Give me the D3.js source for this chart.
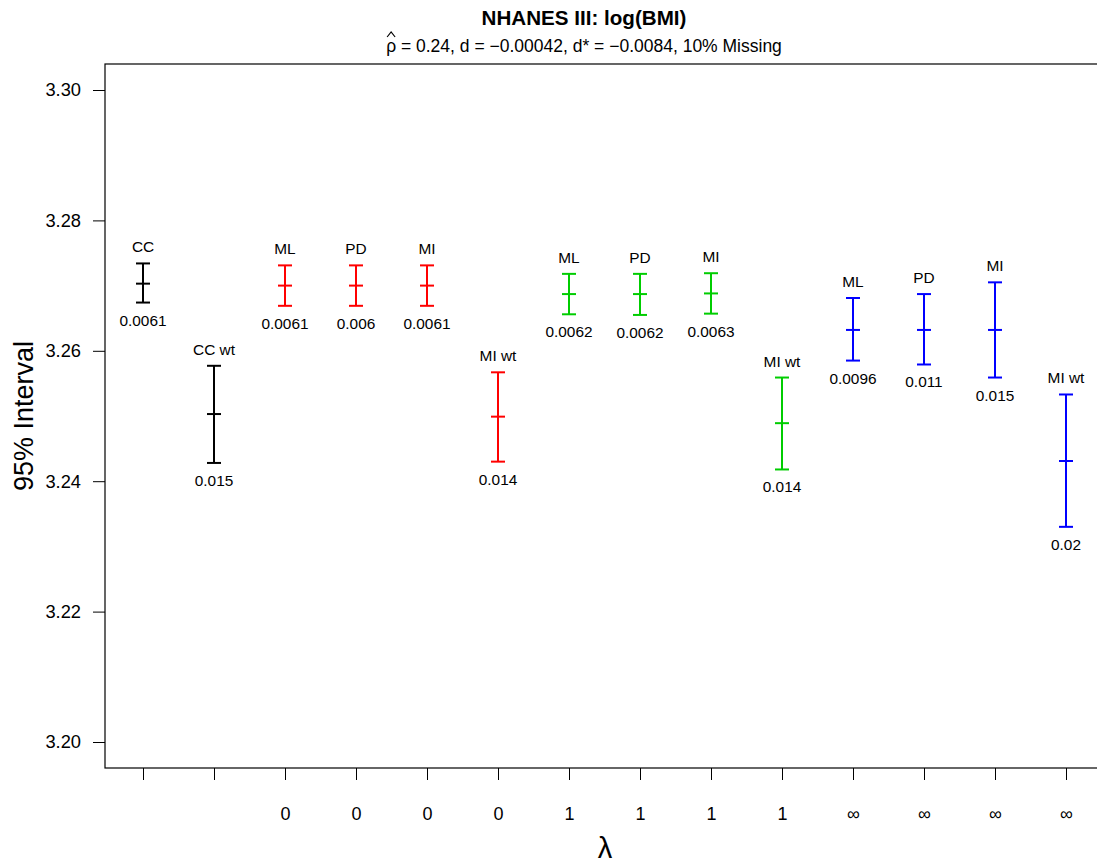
<!DOCTYPE html>
<html>
<head>
<meta charset="utf-8">
<script src="https://cdn.jsdelivr.net/npm/d3@7"></script>
<style>
  body { margin: 0; background: #fff; }
  svg { display: block; }
  text { font-family: "Liberation Sans", Arial, sans-serif; fill: #000; }
</style>
</head>
<body>
<svg id="chart" width="1097" height="866"></svg>
<script>
// ---- data ----
const topLabels    = ["CC", "CC wt", "ML", "PD", "MI", "MI wt", "ML", "PD", "MI", "MI wt", "ML", "PD", "MI", "MI wt"];
const lambdaLabels = ["", "", "0", "0", "0", "0", "1", "1", "1", "1", "\u221E", "\u221E", "\u221E", "\u221E"];
const groups       = [0, 0, 1, 1, 1, 1, 2, 2, 2, 2, 3, 3, 3, 3];
const estimates    = [3.2703, 3.2503, 3.2700, 3.2700, 3.2700, 3.2499, 3.2687, 3.2687, 3.2688, 3.2489, 3.2632, 3.2632, 3.2632, 3.2431];
const lowers       = [3.2674, 3.2428, 3.2669, 3.2669, 3.2669, 3.2430, 3.2656, 3.2655, 3.2657, 3.2418, 3.2585, 3.2579, 3.2559, 3.2330];
const uppers       = [3.2734, 3.2577, 3.2731, 3.2731, 3.2731, 3.2567, 3.2718, 3.2718, 3.2719, 3.2559, 3.2681, 3.2687, 3.2705, 3.2533];
const widthLabels  = ["0.0061", "0.015", "0.0061", "0.006", "0.0061", "0.014", "0.0062", "0.0062", "0.0063", "0.014", "0.0096", "0.011", "0.015", "0.02"];
const groupColors  = ["#000000", "#ff0000", "#00cd00", "#0000ff"];
const yTicks       = [3.20, 3.22, 3.24, 3.26, 3.28, 3.30];

// ---- layout ----
const svg = d3.select("#chart");
const plotLeft = 105, plotRight = 1100, plotTop = 64, plotBottom = 768;
const titleCenter = 584;

const y = d3.scaleLinear().domain([3.20, 3.30]).range([742, 90]);
const x = d3.scalePoint().domain(d3.range(topLabels.length)).range([143, 1066]);

// box (top + left + bottom; right edge off-canvas)
svg.append("rect")
  .attr("x", plotLeft).attr("y", plotTop)
  .attr("width", plotRight - plotLeft).attr("height", plotBottom - plotTop)
  .attr("fill", "none").attr("stroke", "#000").attr("stroke-width", 1.2);

// y axis
const yAxis = d3.axisLeft(y).tickValues(yTicks).tickFormat(d3.format(".2f")).tickSizeOuter(0).tickSize(12).tickPadding(12);
const gy = svg.append("g").attr("transform", `translate(${plotLeft},0)`).call(yAxis);
gy.attr("font-size", null).attr("font-family", null);
gy.select(".domain").remove();
gy.selectAll("line").attr("stroke", "#000");
gy.selectAll("text").style("font-size", "18.3px").style("font-family", "Liberation Sans, Arial, sans-serif");

// x axis
const xAxis = d3.axisBottom(x).tickFormat(i => lambdaLabels[i]).tickSizeOuter(0).tickSize(12).tickPadding(27);
const gx = svg.append("g").attr("transform", `translate(0,${plotBottom})`).call(xAxis);
gx.attr("font-size", null).attr("font-family", null);
gx.select(".domain").remove();
gx.selectAll("line").attr("stroke", "#000");
gx.selectAll("text").style("font-size", "18px").style("font-family", "Liberation Sans, Arial, sans-serif");

// error bars
const idx = d3.range(topLabels.length);
const cap = 7;
const bars = svg.append("g").selectAll("g").data(idx).join("g")
  .attr("stroke", i => groupColors[groups[i]]).attr("stroke-width", 2);
bars.append("line").attr("x1", i => x(i)).attr("x2", i => x(i)).attr("y1", i => y(lowers[i])).attr("y2", i => y(uppers[i]));
bars.append("line").attr("x1", i => x(i) - cap).attr("x2", i => x(i) + cap).attr("y1", i => y(uppers[i])).attr("y2", i => y(uppers[i]));
bars.append("line").attr("x1", i => x(i) - cap).attr("x2", i => x(i) + cap).attr("y1", i => y(lowers[i])).attr("y2", i => y(lowers[i]));
bars.append("line").attr("x1", i => x(i) - cap).attr("x2", i => x(i) + cap).attr("y1", i => y(estimates[i])).attr("y2", i => y(estimates[i]));

// labels above / below
svg.append("g").selectAll("text").data(idx).join("text")
  .attr("x", i => x(i)).attr("y", i => y(uppers[i]) - 11)
  .attr("text-anchor", "middle").style("font-size", "15.4px")
  .text(i => topLabels[i]);
svg.append("g").selectAll("text").data(idx).join("text")
  .attr("x", i => x(i)).attr("y", i => y(lowers[i]) + 23)
  .attr("text-anchor", "middle").style("font-size", "15.4px")
  .text(i => widthLabels[i]);

// titles
svg.append("text").attr("x", titleCenter).attr("y", 25).attr("text-anchor", "middle")
  .style("font-size", "20.6px").style("font-weight", "bold").text("NHANES III: log(BMI)");
const sub = svg.append("text").attr("x", titleCenter).attr("y", 51.5).attr("text-anchor", "middle").style("font-size", "17.5px")
  .text("\u03C1 = 0.24, d = \u22120.00042, d* = \u22120.0084, 10% Missing");
// hat over rho
const node = sub.node();
const p0 = node.getStartPositionOfChar(0), p1 = node.getEndPositionOfChar(0);
const hx = (p0.x + p1.x) / 2, hy = 51.5 - 14.5;
svg.append("path")
  .attr("d", `M${hx - 4},${hy} L${hx},${hy - 5} L${hx + 4},${hy}`)
  .attr("fill", "none").attr("stroke", "#000").attr("stroke-width", 1.2);

// axis titles
svg.append("text").attr("transform", `translate(33,${(plotTop + plotBottom) / 2}) rotate(-90)`)
  .attr("text-anchor", "middle").style("font-size", "27px").text("95% Interval");
svg.append("text").attr("x", 605).attr("y", 858).attr("text-anchor", "middle")
  .style("font-size", "29px").text("\u03BB");
</script>
</body>
</html>
